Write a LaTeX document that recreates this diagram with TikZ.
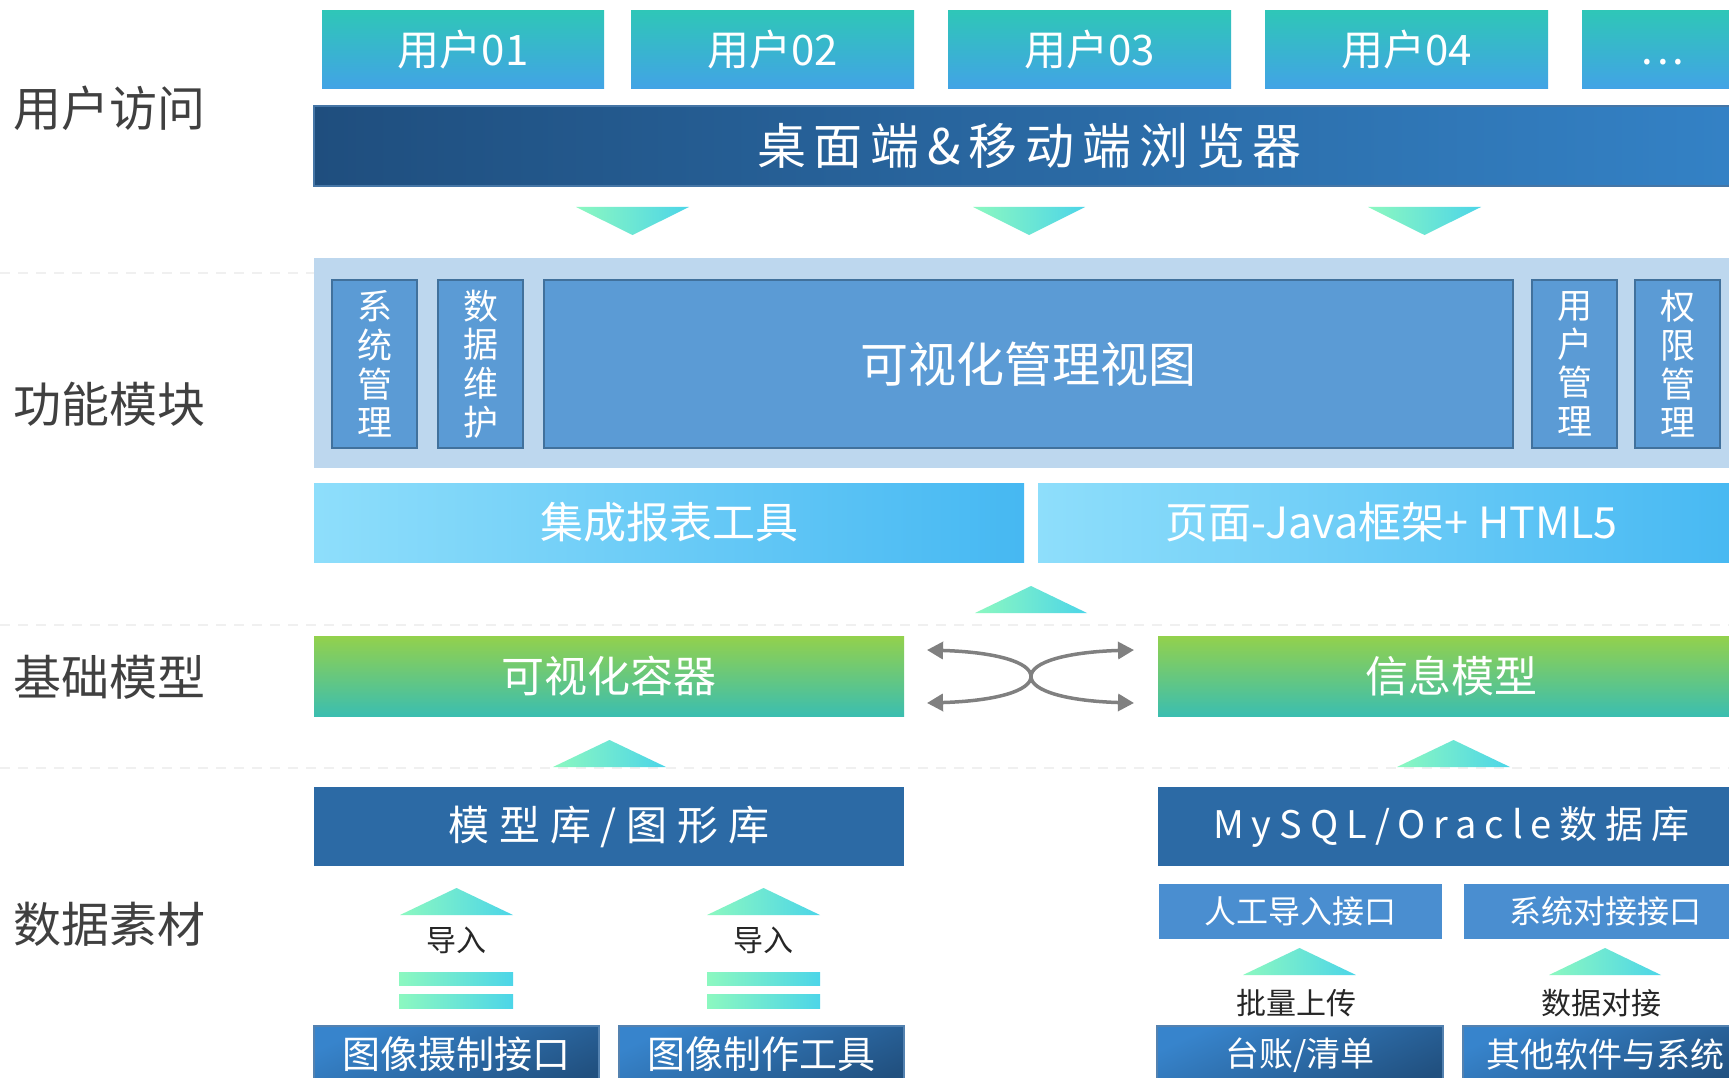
\documentclass[tikz,border=0pt]{standalone}
\usepackage{fontspec}
\setmainfont{Noto Sans CJK SC}
\newfontfamily\wideA[LetterSpace=16]{Noto Sans CJK SC}
\newfontfamily\wideB[LetterSpace=24]{Noto Sans CJK SC}
\newfontfamily\wideC[LetterSpace=21]{Noto Sans CJK SC}
\usetikzlibrary{arrows.meta}
\definecolor{ucTop}{HTML}{2FC6B8}
\definecolor{ucBot}{HTML}{42A3E6}
\definecolor{brL}{HTML}{1F4E7E}
\definecolor{brR}{HTML}{3482C6}
\definecolor{brD}{HTML}{4676A6}
\definecolor{triL}{HTML}{8CF8C0}
\definecolor{triR}{HTML}{4CD5E8}
\definecolor{panelbg}{HTML}{BDD7EE}
\definecolor{modfill}{HTML}{5B9BD5}
\definecolor{moddraw}{HTML}{41719C}
\definecolor{repL}{HTML}{8EDEFB}
\definecolor{repR}{HTML}{46B8F2}
\definecolor{grT}{HTML}{93D14C}
\definecolor{grB}{HTML}{3BBEB0}
\definecolor{dbfill}{HTML}{2C6AA5}
\definecolor{ifill}{HTML}{4A8ED0}
\definecolor{botL}{HTML}{21507F}
\definecolor{botR}{HTML}{3784CC}
\definecolor{botD}{HTML}{5482B0}
\definecolor{arrgray}{HTML}{808080}
\definecolor{labelgray}{HTML}{404040}
\definecolor{blacklabel}{HTML}{262626}
\definecolor{sepgray}{HTML}{F0F0F0}
\tikzset{
  fs/.style={font=\fontsize{#1}{#1}\selectfont},
  every node/.style={inner sep=0pt, outer sep=0pt},
  ubox/.style={top color=ucTop, bottom color=ucBot, minimum height=78pt, text=white, fs=42},
  sidelabel/.style={fs=48, text=labelgray, anchor=west},
  tri/.style={left color=triL, right color=triR},
  modbox/.style={fill=modfill, draw=moddraw, line width=2.5pt, minimum height=168pt, text=white},
  vtext/.style={font=\fontsize{35}{38.6}\selectfont, align=center},
  repbox/.style={left color=repL, right color=repR, minimum height=79pt, text=white, fs=43},
  grbox/.style={top color=grT, bottom color=grB, minimum height=80pt, text=white, fs=43},
  dbbox/.style={fill=dbfill, minimum height=79pt, text=white},
  ibox/.style={fill=ifill, minimum height=55pt, text=white, fs=32},
  botbox/.style={top color=botR, bottom color=botL, shading angle=25, draw=botD, line width=2.5pt, minimum height=68pt},
  bottext/.style={text=white},
  blk/.style={fs=30, text=blacklabel},
  sepline/.style={draw=sepgray, line width=1.5pt, dash pattern=on 10pt off 8pt},
  garrow/.style={draw=arrgray, line width=3.5pt, {Triangle[length=16pt,width=17pt]}-{Triangle[length=16pt,width=17pt]}},
}
\begin{document}
\begin{tikzpicture}[x=1pt,y=-1pt]
\clip (0,0) rectangle (1729,1078);
\fill[white] (0,0) rectangle (1729,1078);

% separator lines
\draw[sepline] (0,273) -- (1729,273);
\draw[sepline] (0,625) -- (1729,625);
\draw[sepline] (0,768) -- (1729,768);

% side labels
\node[sidelabel] (l1) at (13,108) {用户访问};
\node[sidelabel] (l2) at (13,404) {功能模块};
\node[sidelabel] (l3) at (13,677) {基础模型};
\node[sidelabel] (l4) at (13,924) {数据素材};

% users
\node[ubox, minimum width=282pt] (u1) at (463,50) {用户01};
\node[ubox, minimum width=283pt] (u2) at (772.5,50) {用户02};
\node[ubox, minimum width=283pt] (u3) at (1089.5,50) {用户03};
\node[ubox, minimum width=283pt] (u4) at (1406.5,50) {用户04};
\node[ubox, minimum width=288pt] (u5) at (1726,50) {};
\node[fs=42, text=white] (u5t) at (1663,62) {.\kern4pt.\kern4pt.};

% browser
\node[left color=brL, right color=brR, draw=brD, line width=1.5pt, minimum width=1431pt, minimum height=80pt, text=white] (br) at (1029.5,146) {\wideA\fontsize{49}{49}\selectfont 桌面端\&移动端浏览器};

% down triangles
\shade[tri] (576,207) -- (689,207) -- (632.5,235) -- cycle;
\shade[tri] (973,207) -- (1085,207) -- (1029,235) -- cycle;
\shade[tri] (1368,207) -- (1481,207) -- (1424.5,235) -- cycle;

% function panel
\node[fill=panelbg, minimum width=1431pt, minimum height=210pt] (panel) at (1029.5,363) {};
\node[modbox, minimum width=85pt] (m1) at (374.5,364) {};
\node[vtext, text=white] (m1t) at (m1.center) {系\\统\\管\\理};
\node[modbox, minimum width=85pt] (m2) at (480.5,364) {};
\node[vtext, text=white] (m2t) at (m2.center) {数\\据\\维\\护};
\node[modbox, minimum width=969pt, fs=48] (m3) at (1028.5,364) {可视化管理视图};
\node[modbox, minimum width=85pt] (m4) at (1574.5,364) {};
\node[vtext, text=white] (m4t) at (m4.center) {用\\户\\管\\理};
\node[modbox, minimum width=85pt] (m5) at (1677.5,364) {};
\node[vtext, text=white] (m5t) at (m5.center) {权\\限\\管\\理};

% report bars
\node[repbox, minimum width=710pt] (r1) at (669,522.5) {集成报表工具};
\node[repbox, minimum width=707pt] (r2) at (1391.5,522.5) {页面-Java框架+ HTML5};

% up triangle
\shade[tri] (975,613) -- (1087,613) -- (1031,586) -- cycle;

% green bars
\node[grbox, minimum width=590pt] (g1) at (609,676) {可视化容器};
\node[grbox, minimum width=587pt] (g2) at (1451.5,676) {信息模型};

% crossing arrows
\coordinate (xl1) at (927,650);
\coordinate (xl2) at (927,703);
\coordinate (xr1) at (1134,650);
\coordinate (xr2) at (1134,703);
\coordinate (xc) at (1031,676.5);
\draw[garrow] (xl1) .. controls (995,652) and (1031,662) .. (xc) .. controls (1031,691) and (995,701) .. (xl2);
\draw[garrow] (xr1) .. controls (1067,652) and (1031,662) .. (xc) .. controls (1031,691) and (1067,701) .. (xr2);

% up triangles
\shade[tri] (553,767) -- (666,767) -- (609.5,740) -- cycle;
\shade[tri] (1397,767) -- (1510,767) -- (1453.5,740) -- cycle;

% database bars
\node[dbbox, minimum width=590pt] (b1) at (609,826.5) {\wideB\fontsize{41}{41}\selectfont 模型库/图形库};
\node[dbbox, minimum width=587pt] (b2) at (1451.5,826.5) {\wideC\fontsize{38}{38}\selectfont MySQL/Oracle数据库};

% left data inputs
\shade[tri] (400,915) -- (513,915) -- (456.5,888) -- cycle;
\shade[tri] (707,915) -- (820,915) -- (763.5,888) -- cycle;
\node[blk] (im1) at (456.5,940) {导入};
\node[blk] (im2) at (763.5,940) {导入};
\shade[tri] (399,972) rectangle (513,985);
\shade[tri] (399,994) rectangle (513,1008);
\shade[tri] (707,972) rectangle (820,985);
\shade[tri] (707,994) rectangle (820,1008);
\node[botbox, minimum width=285pt] (d1) at (456.5,1060) {};
\node[botbox, minimum width=285pt] (d2) at (761.5,1060) {};
\node[bottext, fs=38] (d1t) at (456.5,1054) {图像摄制接口};
\node[bottext, fs=38] (d2t) at (761.5,1054) {图像制作工具};

% right data inputs
\node[ibox, minimum width=283pt] (i1) at (1300.5,911.5) {人工导入接口};
\node[ibox, minimum width=282pt] (i2) at (1605,911.5) {系统对接接口};
\shade[tri] (1243,975) -- (1356,975) -- (1299.5,948) -- cycle;
\shade[tri] (1549,975) -- (1661,975) -- (1605,948) -- cycle;
\node[blk] (bu) at (1296,1003) {批量上传};
\node[blk] (dj) at (1601,1003) {数据对接};
\node[botbox, minimum width=286pt] (d3) at (1300,1060) {};
\node[botbox, minimum width=284pt] (d4) at (1605,1060) {};
\node[bottext, fs=34] (d3t) at (1300,1055) {台账/清单};
\node[bottext, fs=34] (d4t) at (1605,1055) {其他软件与系统};
\end{tikzpicture}
\end{document}
